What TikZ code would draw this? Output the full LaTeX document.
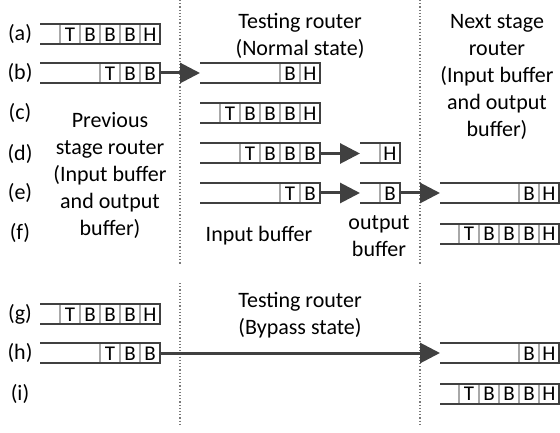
\documentclass[tikz,border=0pt]{standalone}
\usepackage{fontspec}
\setmainfont{Carlito}
\usetikzlibrary{arrows.meta}

\definecolor{edge}{HTML}{404040}
\definecolor{sep}{HTML}{A8A8A8}
\definecolor{dots}{HTML}{7A7A7A}

\tikzset{
  bufbox/.style={draw=none, minimum height=20pt, inner sep=0pt, outer sep=0pt},
  bufline/.style={draw=edge, line width=2pt},
  cellsep/.style={draw=sep, line width=1.2pt},
  celltxt/.style={font=\fontsize{21}{22}\selectfont, inner sep=0pt},
  flow/.style={draw=edge, line width=3pt, -{Triangle[length=20pt,width=20pt]}},
  divider/.style={draw=dots, line width=1.2pt, dotted},
  lbl/.style={font=\fontsize{22}{26}\selectfont, inner sep=0pt},
  caption/.style={font=\fontsize{22}{27}\selectfont, align=center, inner sep=0pt},
}

% FIFO buffer: name, left x, right x, centre y, number of filled cells, cell letters
\newcommand\fifo[6]{%
  \node[bufbox, minimum width={(#3-#2)*1pt}] (#1) at ({(#2+#3)/2},#4) {};
  \foreach \ch [count=\k] in {#6} {
    \pgfmathsetmacro\xl{#3-20*(#5-\k+1)}
    \draw[cellsep] (\xl,{#4-10}) -- (\xl,{#4+10});
    \node[celltxt] (#1-\k) at ({\xl+10},{#4+0.5}) {\ch};
  }
  \draw[bufline] (#1.north west) -- (#1.north east) -- (#1.south east) -- (#1.south west);
}

\begin{document}
\begin{tikzpicture}[x=1pt, y=-1pt]
\useasboundingbox (0,0) rectangle (560,433);

% stage separators
\draw[divider] (180,0) -- (180,265);
\draw[divider] (420,0) -- (420,265);
\draw[divider] (180,283) -- (180,425);
\draw[divider] (420,283) -- (420,425);

% captions
\node[caption] (prev) at (110,175.5) {Previous\\stage router\\(Input buffer\\and output\\buffer)};
\node[caption] (testn) at (300,35.5) {Testing router\\(Normal state)};
\node[caption] (next) at (497,77) {Next stage\\router\\(Input buffer\\and output\\buffer)};
\node[caption] (inbuf) at (259,236) {Input buffer};
\node[caption] (outbuf) at (379,236) {output\\buffer};
\node[caption] (testb) at (300,315) {Testing router\\(Bypass state)};

% row labels
\node[lbl] (la) at (20,34) {(a)};
\node[lbl] (lb) at (20,73) {(b)};
\node[lbl] (lc) at (20,113) {(c)};
\node[lbl] (ld) at (20,154) {(d)};
\node[lbl] (le) at (20,193) {(e)};
\node[lbl] (lf) at (20,233) {(f)};
\node[lbl] (lg) at (20,314) {(g)};
\node[lbl] (lh) at (20,353) {(h)};
\node[lbl] (li) at (20,394) {(i)};

% normal state
\fifo{a1}{40}{160}{34}{5}{T,B,B,B,H}
\fifo{b1}{40}{160}{73}{3}{T,B,B}
\fifo{b2}{200}{320}{73}{2}{B,H}
\fifo{c2}{200}{320}{113}{5}{T,B,B,B,H}
\fifo{d2}{200}{320}{153.5}{4}{T,B,B,B}
\fifo{d3}{360}{400}{153.5}{1}{H}
\fifo{e2}{200}{320}{193}{2}{T,B}
\fifo{e3}{360}{400}{193}{1}{B}
\fifo{e4}{440}{559}{193}{2}{B,H}
\fifo{f4}{440}{559}{233.5}{5}{T,B,B,B,H}

\draw[flow] (b1.east) -- (b2.west);
\draw[flow] (d2.east) -- (d3.west);
\draw[flow] (e2.east) -- (e3.west);
\draw[flow] (e3.east) -- (e4.west);

% bypass state
\fifo{g1}{40}{160}{314}{5}{T,B,B,B,H}
\fifo{h1}{40}{160}{353}{3}{T,B,B}
\fifo{h4}{440}{559}{353}{2}{B,H}
\fifo{i4}{440}{559}{393.5}{5}{T,B,B,B,H}

\draw[flow] (h1.east) -- (h4.west);
\end{tikzpicture}
\end{document}
